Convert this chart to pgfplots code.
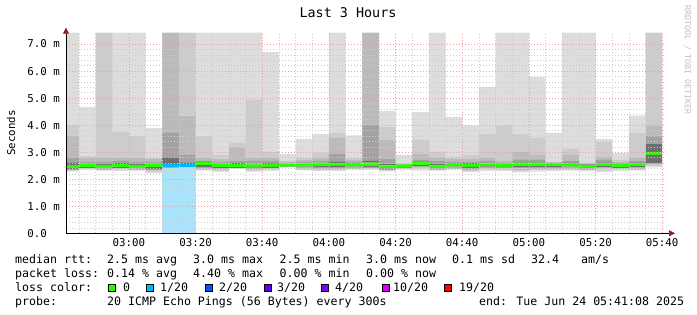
\documentclass[border=0pt]{standalone}
\usepackage{pgfplots}
\pgfplotsset{compat=1.18}
\usepackage{pgfplotstable}
\usepackage{fontspec}
\setmainfont{DejaVu Sans Mono}
\usetikzlibrary{arrows.meta}
\definecolor{Lone}{RGB}{221,221,221}
\definecolor{Ltwo}{RGB}{204,204,204}
\definecolor{Lthree}{RGB}{186,186,186}
\definecolor{Lfour}{RGB}{162,162,162}
\definecolor{Lfive}{RGB}{110,110,110}
\definecolor{lossbg}{RGB}{170,228,252}
\definecolor{c0}{HTML}{26FF00}
\definecolor{c1}{HTML}{00B8FF}
\definecolor{c2}{HTML}{0059FF}
\definecolor{c3}{HTML}{5E00FF}
\definecolor{c4}{HTML}{7E00FF}
\definecolor{c10}{HTML}{DD00FF}
\definecolor{c19}{HTML}{FF0000}
\definecolor{majorgrid}{RGB}{235,160,160}
\definecolor{minorgrid}{RGB}{205,205,205}
\definecolor{arrowred}{RGB}{140,30,30}
\pgfplotstableread{
x lo1 lo2 lo3 lo4 lo5 med hi5 hi4 hi3 hi2 max loss
42.5 2.28 2.31 2.33 2.35 2.38 2.47 2.62 2.81 3.61 4.02 7.42 0
47.5 2.34 2.36 2.38 2.40 2.42 2.50 2.58 2.66 2.78 2.87 4.67 0
52.5 2.30 2.33 2.35 2.37 2.40 2.48 2.58 2.66 2.81 7.42 7.42 0
57.5 2.31 2.34 2.36 2.39 2.42 2.50 2.60 2.68 2.81 3.75 7.42 0
62.5 2.30 2.33 2.35 2.37 2.40 2.48 2.58 2.66 2.78 3.59 7.42 0
67.5 2.23 2.26 2.29 2.33 2.38 2.50 2.58 2.66 2.74 2.81 3.89 0
72.5 2.38 2.39 2.40 2.42 2.44 2.50 2.81 3.71 7.42 7.42 7.42 1
77.5 2.43 2.43 2.44 2.44 2.44 2.50 2.62 2.90 4.35 7.42 7.42 1
82.5 2.32 2.35 2.38 2.42 2.46 2.58 2.66 2.70 2.78 3.61 7.42 0
87.5 2.26 2.29 2.32 2.36 2.40 2.50 2.58 2.66 2.76 2.90 7.42 0
92.5 2.38 2.39 2.40 2.41 2.42 2.50 2.60 2.70 3.21 3.34 7.42 0
97.5 2.28 2.30 2.33 2.36 2.40 2.49 2.58 2.68 2.78 4.95 7.42 0
102.5 2.30 2.33 2.36 2.39 2.42 2.51 2.60 2.68 2.78 3.03 6.70 0
107.5 2.45 2.45 2.45 2.45 2.45 2.52 2.58 2.62 2.64 2.68 2.93 0
112.5 2.33 2.35 2.37 2.40 2.44 2.52 2.58 2.64 2.72 2.81 3.49 0
117.5 2.31 2.34 2.38 2.42 2.46 2.56 2.62 2.68 2.78 2.97 3.67 0
122.5 2.31 2.34 2.37 2.41 2.45 2.55 2.64 2.93 3.53 3.71 7.42 0
127.5 2.34 2.36 2.38 2.41 2.44 2.52 2.60 2.66 2.72 2.81 3.62 0
132.5 2.35 2.37 2.39 2.42 2.46 2.56 2.68 4.02 7.42 7.42 7.42 0
137.5 2.29 2.31 2.33 2.35 2.38 2.46 2.58 2.74 3.47 3.95 4.53 0
142.5 2.34 2.36 2.38 2.40 2.42 2.49 2.55 2.56 2.58 2.61 2.90 0
147.5 2.32 2.36 2.40 2.44 2.48 2.58 2.64 2.72 2.93 3.47 4.48 0
152.5 2.31 2.33 2.35 2.37 2.39 2.46 2.56 2.70 2.84 3.01 7.42 0
157.5 2.34 2.36 2.38 2.41 2.44 2.52 2.60 2.66 2.74 2.83 4.31 0
162.5 2.27 2.30 2.34 2.38 2.42 2.51 2.60 2.66 2.74 2.90 3.99 0
167.5 2.30 2.33 2.36 2.40 2.44 2.53 2.60 2.68 2.81 3.67 5.41 0
172.5 2.31 2.34 2.37 2.40 2.43 2.51 2.58 2.62 2.68 3.99 7.42 0
177.5 2.25 2.30 2.35 2.40 2.45 2.56 2.64 2.72 3.03 3.67 7.42 0
182.5 2.28 2.33 2.38 2.42 2.46 2.56 2.64 2.72 2.90 3.53 5.78 0
187.5 2.30 2.34 2.38 2.42 2.46 2.54 2.60 2.61 2.63 2.66 3.71 0
192.5 2.32 2.35 2.38 2.41 2.44 2.52 2.62 2.70 2.90 3.12 7.42 0
197.5 2.29 2.32 2.35 2.37 2.40 2.47 2.55 2.57 2.59 2.62 7.42 0
202.5 2.26 2.31 2.36 2.40 2.44 2.54 2.62 2.72 2.83 3.38 3.49 0
207.5 2.30 2.33 2.36 2.39 2.42 2.50 2.58 2.62 2.66 2.72 2.97 0
212.5 2.32 2.35 2.38 2.41 2.44 2.54 2.62 2.70 2.81 3.71 4.35 0
217.5 2.44 2.47 2.50 2.55 2.60 2.96 3.30 3.61 3.99 7.42 7.42 0
}\smoke
\begin{document}
\begin{tikzpicture}
\useasboundingbox (-66bp,-81.7bp) rectangle (631bp,233.3bp);
\begin{axis}[
  at={(0,0)}, anchor=south west,
  scale only axis, width=600bp, height=200.6bp,
  xmin=41.133, xmax=221.133, ymin=0, ymax=7.42,
  ybar stacked, bar width=5, bar shift=0pt,
  axis lines=left,
  axis on top,
  x axis line style={black, line width=0.7bp, shorten >=-9bp, -{Triangle[length=6bp,width=6bp,color=arrowred]}},
  y axis line style={black, line width=0.7bp, shorten >=-5bp, -{Triangle[length=6bp,width=6bp,color=arrowred]}},
  xtick={60,80,...,220},
  xticklabels={03:00,03:20,03:40,04:00,04:20,04:40,05:00,05:20,05:40},
  minor xtick={45,50,...,220},
  ytick={0,1,...,7},
  yticklabels={0.0\hphantom{\ m},1.0 m,2.0 m,3.0 m,4.0 m,5.0 m,6.0 m,7.0 m},
  minor y tick num=4,
  grid=both,
  major grid style={color=majorgrid, dash pattern=on 1bp off 2bp, line width=0.55bp},
  minor grid style={color=minorgrid, dash pattern=on 1bp off 2bp, line width=0.55bp},
  tick align=inside,
  major tick length=0pt, minor tick length=0pt,
  tick label style={font=\fontsize{10.8bp}{12bp}\selectfont, inner sep=0pt},
  xticklabel style={anchor=north, yshift=-4.8bp},
  yticklabel style={anchor=east, xshift=-6bp},
]
\addplot[fill=lossbg, draw=none] table[x=x, y expr={ifthenelse(\thisrow{loss}>0,\thisrow{lo1},0)}]{\smoke};
\addplot[fill=none, draw=none] table[x=x, y expr={ifthenelse(\thisrow{loss}>0,0,\thisrow{lo1})}]{\smoke};
\addplot[fill=Lone, draw=none] table[x=x, y expr=\thisrow{lo2}-\thisrow{lo1}]{\smoke};
\addplot[fill=Ltwo, draw=none] table[x=x, y expr=\thisrow{lo3}-\thisrow{lo2}]{\smoke};
\addplot[fill=Lthree, draw=none] table[x=x, y expr=\thisrow{lo4}-\thisrow{lo3}]{\smoke};
\addplot[fill=Lfour, draw=none] table[x=x, y expr=\thisrow{lo5}-\thisrow{lo4}]{\smoke};
\addplot[fill=Lfive, draw=none] table[x=x, y expr=\thisrow{med}-0.055-\thisrow{lo5}]{\smoke};
\addplot[fill=c0, draw=none] table[x=x, y expr={ifthenelse(\thisrow{loss}>0,0,0.11)}]{\smoke};
\addplot[fill=c1, draw=none] table[x=x, y expr={ifthenelse(\thisrow{loss}>0,0.11,0)}]{\smoke};
\addplot[fill=Lfive, draw=none] table[x=x, y expr=\thisrow{hi5}-\thisrow{med}-0.055]{\smoke};
\addplot[fill=Lfour, draw=none] table[x=x, y expr=\thisrow{hi4}-\thisrow{hi5}]{\smoke};
\addplot[fill=Lthree, draw=none] table[x=x, y expr=\thisrow{hi3}-\thisrow{hi4}]{\smoke};
\addplot[fill=Ltwo, draw=none] table[x=x, y expr=\thisrow{hi2}-\thisrow{hi3}]{\smoke};
\addplot[fill=Lone, draw=none] table[x=x, y expr=\thisrow{max}-\thisrow{hi2}]{\smoke};
\end{axis}
% title, y label, watermark
\node[font=\fontsize{13.4bp}{15bp}\selectfont, inner sep=0pt] at (282bp,220.3bp) {Last 3 Hours};
\node[font=\fontsize{10.8bp}{12bp}\selectfont, inner sep=0pt, rotate=90] at (-55bp,100.3bp) {Seconds};
\node[font=\fontsize{8.3bp}{9bp}\selectfont, inner sep=0pt, rotate=-90, text=black!25] at (621.5bp,173.3bp) {RRDTOOL / TOBI OETIKER};
% legend
\begin{scope}[every node/.style={font=\fontsize{11.6bp}{13bp}\selectfont, inner sep=0pt, anchor=base west}]
\node at (-51bp,-30bp) {median rtt:};
\node at (41bp,-30bp) {2.5 ms avg};
\node at (127bp,-30bp) {3.0 ms max};
\node at (213.5bp,-30bp) {2.5 ms min};
\node at (300bp,-30bp) {3.0 ms now};
\node at (386bp,-30bp) {0.1 ms sd};
\node at (465bp,-30bp) {32.4};
\node at (515bp,-30bp) {am/s};
\node at (-51bp,-44bp) {packet loss:};
\node at (41bp,-44bp) {0.14 \% avg};
\node at (127bp,-44bp) {4.40 \% max};
\node at (213.5bp,-44bp) {0.00 \% min};
\node at (300bp,-44bp) {0.00 \% now};
\node at (-51bp,-58bp) {loss color:};
\node at (57bp,-58bp) {0};
\node at (94bp,-58bp) {1/20};
\node at (153bp,-58bp) {2/20};
\node at (211bp,-58bp) {3/20};
\node at (269bp,-58bp) {4/20};
\node at (327bp,-58bp) {10/20};
\node at (393bp,-58bp) {19/20};
\node at (-51bp,-72bp) {probe:};
\node at (41bp,-72bp) {20 ICMP Echo Pings (56 Bytes) every 300s};
\node at (413bp,-72bp) {end: Tue Jun 24 05:41:08 2025};
\end{scope}
\foreach \bx/\col in {42.5/c0,80/c1,139/c2,198/c3,255/c4,316/c10,378/c19}{
  \filldraw[fill=\col, draw=black, line width=0.8bp] (\bx bp,-58bp) rectangle ++(7bp,7bp);
}
\end{tikzpicture}
\end{document}
